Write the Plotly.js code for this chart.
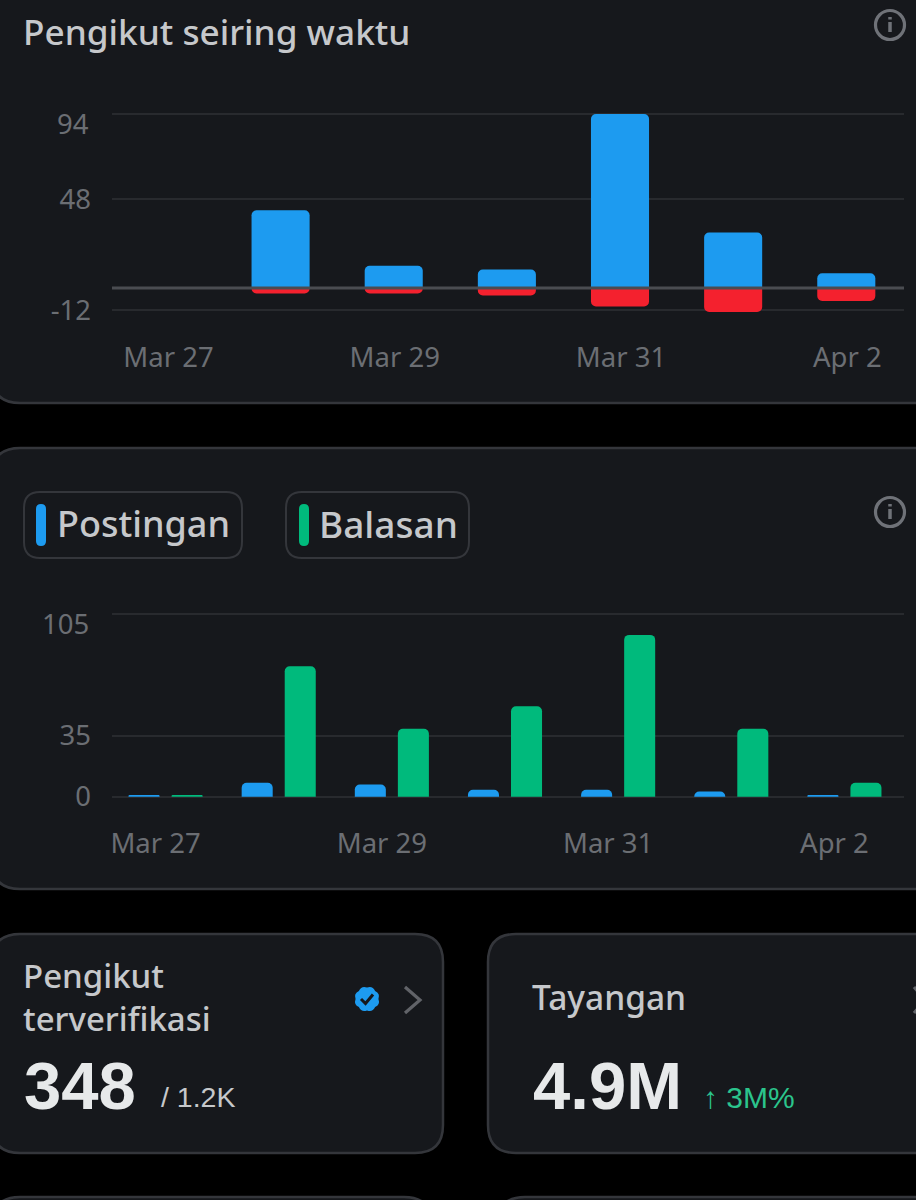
<!DOCTYPE html>
<html><head><meta charset="utf-8">
<script src="https://cdn.plot.ly/plotly-3.0.1.min.js"></script>
<style>html,body{margin:0;padding:0;background:#000;overflow:hidden}</style>
</head><body><div id="chart" style="width:916px;height:1200px"></div>
<script>
// ---- data ----
const days = ['Mar 27','Mar 28','Mar 29','Mar 30','Mar 31','Apr 1','Apr 2'];
const tickDays = ['Mar 27','Mar 29','Mar 31','Apr 2'];
const followersGained = [0, 42, 12, 10, 94, 30, 8];
const followersLost = [0, -3, -3, -4, -10, -13, -7];
const posts = [1, 8, 7, 4, 4, 3, 1];
const replies = [1, 75, 39, 52, 93, 39, 8];
const yTicksTop = [94, 48, -12];
const yTicksBottom = [105, 35, 0];

// ---- helpers ----
const W = 916, H = 1200;
const BG='#000000', CARD='#16181c', BORDER='#34363b', GRID='#282a2e', ZERO='#4a4c51';
const BLUE='#1d9bf0', RED='#f4212e', GREEN='#00ba7c', TEXT='#c6c8cb', TICK='#6b6e73', ICON='#6f7278';
const UI='"Noto Sans", sans-serif', NUM='"Liberation Sans", sans-serif';
const px = x => x / W, py = y => 1 - y / H;
const P = (x,y) => px(x).toFixed(5)+','+py(y).toFixed(5);
function rr(x0,y0,x1,y1,r){
  return `M${P(x0+r,y0)} L${P(x1-r,y0)} Q${P(x1,y0)} ${P(x1,y0+r)} L${P(x1,y1-r)} Q${P(x1,y1)} ${P(x1-r,y1)} L${P(x0+r,y1)} Q${P(x0,y1)} ${P(x0,y1-r)} L${P(x0,y0+r)} Q${P(x0,y0)} ${P(x0+r,y0)} Z`;
}
const shapes = [], annotations = [];
function box(x0,y0,x1,y1,r,fill,line,lw){
  shapes.push({type:'path',xref:'paper',yref:'paper',path:rr(x0,y0,x1,y1,r),fillcolor:fill,
    line:{color:line||fill,width:lw===undefined?0:lw},layer:'below'});
}
function txt(text,x,y,size,color,family,opts){
  annotations.push(Object.assign({text:text,xref:'paper',yref:'paper',x:px(x),y:py(y),xanchor:'left',yanchor:'middle',align:'left',
    showarrow:false,font:{size:size,color:color,family:family||UI},borderpad:0},opts||{}));
}
function info(cx,cy){
  shapes.push({type:'circle',xref:'paper',yref:'paper',x0:px(cx-14.5),x1:px(cx+14.5),y0:py(cy+14.5),y1:py(cy-14.5),
    line:{color:ICON,width:3.2},fillcolor:'rgba(0,0,0,0)'});
  shapes.push({type:'path',xref:'paper',yref:'paper',path:`M${P(cx,cy-3)} L${P(cx,cy+7)}`,line:{color:ICON,width:3.5}});
  shapes.push({type:'path',xref:'paper',yref:'paper',path:`M${P(cx,cy-8)} L${P(cx,cy-5.5)}`,line:{color:ICON,width:3.5}});
}
function badge(cx,cy,r){
  let d='';
  const n=8;
  for(let i=0;i<n;i++){
    const a0=2*Math.PI*i/n, a1=2*Math.PI*(i+1)/n, am=(a0+a1)/2;
    const c=(a,R)=>P(cx+R*Math.cos(a),cy+R*Math.sin(a));
    d+=(i?'':'M'+c(a0,r*0.88))+` Q${c(am,r*1.12)} ${c(a1,r*0.88)} `;
  }
  shapes.push({type:'path',xref:'paper',yref:'paper',path:d+'Z',fillcolor:BLUE,line:{width:0,color:BLUE}});
  shapes.push({type:'path',xref:'paper',yref:'paper',path:`M${P(cx-6,cy)} L${P(cx-1.5,cy+4.5)} L${P(cx+6,cy-4.5)}`,
    line:{color:'#16181c',width:3}});
}

// ---- cards ----
box(-8,-40,960,403,28,CARD,BORDER,2.5);
box(-8,448,960,889,28,CARD,BORDER,2.5);
box(-8,934,443,1153,28,CARD,BORDER,2.5);
box(488,934,960,1153,28,CARD,BORDER,2.5);
box(-8,1197,432,1260,28,CARD,BORDER,2.5);
box(497,1197,960,1260,28,CARD,BORDER,2.5);

// legend chips
box(24,492,242,558,16,CARD,BORDER,2);
box(286,492,469,558,16,CARD,BORDER,2);
box(36,504,46,546,5,BLUE);
box(299,504,309,546,5,GREEN);

// ---- text ----
function ui(text,x,y,size){ txt(text,x,y,size,TEXT,UI,{font:{size:size,color:TEXT,family:UI,weight:500}}); }
ui('Pengikut seiring waktu',22,31,35.2);
ui('Postingan',56,523.5,36);
ui('Balasan',318,523.5,37);
ui('Pengikut<br>terverifikasi',22,997,33);
txt('348',22.5,1085,67,'#e7e9ea',NUM,{font:{size:67,color:'#e7e9ea',family:NUM,weight:700}});
txt('/ 1.2K',160,1097,28.5,TEXT,NUM);
ui('Tayangan',531,997,33.5);
txt('4.9M',531.5,1085,67,'#e7e9ea',NUM,{font:{size:67,color:'#e7e9ea',family:NUM,weight:700}});
txt('↑ 3M%',702,1097,30,'#2bc48c',NUM);
txt('94',90,124,27.5,TICK,UI,{xanchor:'right'});
txt('105',90,623,27.5,TICK,UI,{xanchor:'right'});

// icons
info(890,25); info(890,512);
badge(367,999,13);
shapes.push({type:'path',xref:'paper',yref:'paper',path:`M${P(405,987)} L${P(420,1000)} L${P(405,1013)}`,line:{color:'#616368',width:3.2}});
shapes.push({type:'path',xref:'paper',yref:'paper',path:`M${P(914,987)} L${P(925,1000)} L${P(914,1013)}`,line:{color:'#616368',width:3.2}});

// zero line of the top chart, drawn over the bars
shapes.push({type:'line',xref:'paper',yref:'y',x0:px(112),x1:px(904),y0:0,y1:0,line:{color:ZERO,width:3},layer:'above'});

// ---- traces ----
const traces = [
  {type:'bar',name:'Pengikut baru',x:days,y:followersGained,xaxis:'x',yaxis:'y',width:58/113,marker:{color:BLUE,cornerradius:5}},
  {type:'bar',name:'Berhenti mengikuti',x:days,y:followersLost,xaxis:'x',yaxis:'y',width:58/113,marker:{color:RED,cornerradius:5}},
  {type:'bar',name:'Postingan',x:days,y:posts,xaxis:'x2',yaxis:'y2',width:31/113,offset:-40/113,marker:{color:BLUE,cornerradius:5}},
  {type:'bar',name:'Balasan',x:days,y:replies,xaxis:'x2',yaxis:'y2',width:31/113,offset:3/113,marker:{color:GREEN,cornerradius:5}}
];
const xBase = {type:'category',categoryorder:'array',categoryarray:days,range:[-0.5,6.5],domain:[px(112),px(904)],
  tickmode:'array',tickvals:tickDays,ticktext:tickDays,showgrid:false,zeroline:false,showline:false,ticks:'',
  tickfont:{size:27.5,color:TICK,family:UI},tickangle:0,fixedrange:true};
const yBase = {tickmode:'array',showgrid:true,gridcolor:GRID,gridwidth:2,zeroline:false,showline:false,ticks:'',
  tickfont:{size:27.5,color:TICK,family:UI},ticklabelstandoff:20,ticklabelshift:-4.5,fixedrange:true};
const layout = {
  width:W,height:H,margin:{l:0,r:0,t:0,b:0,pad:0},paper_bgcolor:BG,plot_bgcolor:'rgba(0,0,0,0)',
  barmode:'overlay',showlegend:false,shapes:shapes,annotations:annotations,
  xaxis:Object.assign({},xBase,{anchor:'y',range:[-0.49,6.51],ticklabelstandoff:17,ticklabelshift:1}),
  yaxis:Object.assign({},yBase,{anchor:'x',range:[-18,100],domain:[1-321.3/H,1-103/H],
    tickvals:yTicksTop,ticktext:yTicksTop.map(v=>v===94?' ':String(v))}),
  xaxis2:Object.assign({},xBase,{anchor:'y2',ticklabelshift:-13,ticklabelstandoff:19}),
  yaxis2:Object.assign({},yBase,{anchor:'x2',range:[-5,110],domain:[1-805.4/H,1-605.3/H],
    tickvals:yTicksBottom,ticktext:yTicksBottom.map(v=>v===105?' ':String(v))})
};
Plotly.newPlot('chart',traces,layout,{displayModeBar:false,staticPlot:true});
</script></body></html>
